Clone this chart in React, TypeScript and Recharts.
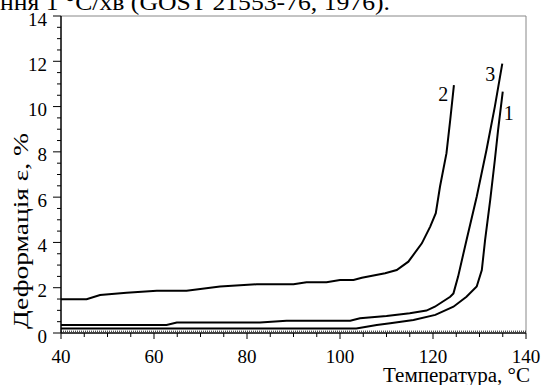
import React from "react";
import { LineChart, Line, XAxis, YAxis, ReferenceLine, ReferenceDot } from "recharts";

// curve 1
const temp1 = [40, 103.5, 107.9, 110.8, 115.8, 120.5, 124.4, 127.2, 129.4, 130.5, 131.2, 132.3, 133.3, 134, 135];
const strain1 = [0.2, 0.2, 0.35, 0.43, 0.57, 0.8, 1.16, 1.6, 2.05, 2.78, 4.1, 5.87, 7.64, 8.97, 10.66];
// curve 2
const temp2 = [40, 45.5, 48.4, 54.1, 60.6, 67, 74.2, 82.1, 90, 92.8, 97.1, 100, 102.9, 104.7, 109.7, 112.2, 114.7, 117.6, 119.4, 120.6, 121.5, 122.9, 123.7, 124.5];
const strain2 = [1.49, 1.49, 1.68, 1.78, 1.87, 1.87, 2.05, 2.15, 2.15, 2.24, 2.24, 2.34, 2.34, 2.44, 2.64, 2.78, 3.15, 3.96, 4.7, 5.29, 6.46, 7.94, 9.4, 10.95];
// curve 3
const temp3 = [40, 62.7, 64.9, 82.8, 88.5, 102.2, 104.3, 110, 115, 118.6, 120.4, 123.7, 124.4, 125.4, 127.2, 129.4, 131.5, 133.3, 134.9];
const strain3 = [0.35, 0.35, 0.46, 0.46, 0.54, 0.54, 0.65, 0.75, 0.87, 0.99, 1.16, 1.6, 1.75, 2.49, 4.1, 6.02, 8.08, 10.0, 11.9];

const xTicks = [40, 45, 50, 55, 60, 65, 70, 75, 80, 85, 90, 95, 100, 105, 110, 115, 120, 125, 130, 135, 140];
const yTicks = [0, 0.5, 1, 1.5, 2, 2.5, 3, 3.5, 4, 4.5, 5, 5.5, 6, 6.5, 7, 7.5, 8, 8.5, 9, 9.5, 10, 10.5, 11, 11.5, 12, 12.5, 13, 13.5, 14];

// curve number labels: [temperature, strain, text]
const curveLabels: [number, number, string][] = [
  [122.2, 10.54, "2"],
  [132.3, 11.44, "3"],
  [136.3, 9.7, "1"],
];

const FONT = "Liberation Serif, Times New Roman, DejaVu Serif, Noto Serif, serif";
const txt = { fontFamily: FONT };

const toRows = (t: number[], v: number[]) => t.map((x, i) => ({ t: x, v: v[i] }));

const XTick = ({ x, y, payload }: any) => {
  const major = payload.value % 20 === 0;
  return (
    <g>
      <line x1={x} x2={x} y1={y} y2={y + (major ? 6 : 4)} stroke="#000" strokeWidth={1} />
      {major && (
        <text x={x} y={y + 30} textAnchor="middle" fontSize={19} style={txt} fill="#000">
          {payload.value}
        </text>
      )}
    </g>
  );
};

const YTick = ({ x, y, payload }: any) => {
  const major = payload.value % 2 === 0;
  return (
    <g>
      <line x1={x} x2={x - (major ? 8 : 4)} y1={y} y2={y} stroke="#000" strokeWidth={1} />
      {major && (
        <text x={x - 14} y={y + 9.5} textAnchor="end" fontSize={19} style={txt} fill="#000">
          {payload.value}
        </text>
      )}
    </g>
  );
};

export default function App() {
  return (
    <div style={{ position: "absolute", left: 0, top: 0, width: 546, height: 385, background: "#fff", overflow: "hidden", fontFamily: FONT }}>
      <LineChart width={546} height={385} margin={{ top: 16, right: 20, bottom: 0, left: 0 }}>
        <XAxis
          type="number"
          dataKey="t"
          domain={[40, 140]}
          ticks={xTicks}
          interval={0}
          tickSize={0}
          tickMargin={0}
          tick={<XTick />}
          tickLine={false}
          axisLine={{ stroke: "#000", strokeWidth: 1.5 }}
          height={52}
          allowDataOverflow
        />
        <YAxis
          type="number"
          domain={[0, 14]}
          ticks={yTicks}
          interval={0}
          tickSize={0}
          tickMargin={0}
          tick={<YTick />}
          tickLine={false}
          axisLine={{ stroke: "#000", strokeWidth: 1.5 }}
          width={61}
          allowDataOverflow
        />
        <ReferenceLine y={14} stroke="#888" strokeWidth={1} />
        <ReferenceLine x={140} stroke="#888" strokeWidth={1} />
        <ReferenceLine y={0.08} stroke="#000" strokeWidth={1} strokeDasharray="1 1" />
        <Line data={toRows(temp1, strain1)} dataKey="v" type="linear" stroke="#000" strokeWidth={2} dot={false} isAnimationActive={false} />
        <Line data={toRows(temp2, strain2)} dataKey="v" type="linear" stroke="#000" strokeWidth={2} dot={false} isAnimationActive={false} />
        <Line data={toRows(temp3, strain3)} dataKey="v" type="linear" stroke="#000" strokeWidth={2} dot={false} isAnimationActive={false} />
        {curveLabels.map(([t, v, s]) => (
          <ReferenceDot
            key={s}
            x={t}
            y={v}
            r={0}
            stroke="none"
            fill="none"
            label={{ value: s, position: "center", fill: "#000", fontSize: 20, style: txt }}
          />
        ))}
      </LineChart>
      <svg width={546} height={385} style={{ position: "absolute", left: 0, top: 0, pointerEvents: "none" }}>
        <text x={0} y={10} fontSize={23} textLength={390} lengthAdjust="spacingAndGlyphs" style={txt} fill="#000">
          ння 1 °С/хв (GOST 21553-76, 1976).
        </text>
        <text transform="translate(28,231) rotate(-90)" textAnchor="middle" fontSize={21} textLength={196} lengthAdjust="spacingAndGlyphs" style={txt} fill="#000">
          Деформація ε, %
        </text>
        <text x={530} y={382} textAnchor="end" fontSize={20} textLength={147} lengthAdjust="spacingAndGlyphs" style={txt} fill="#000">
          Температура, °C
        </text>
      </svg>
    </div>
  );
}
